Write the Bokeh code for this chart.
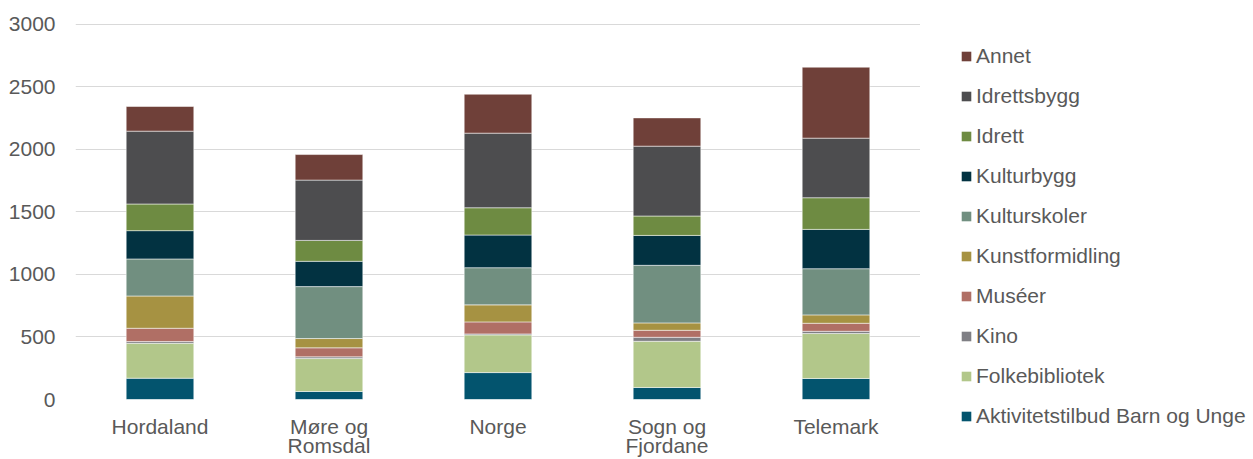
from bokeh.plotting import figure
from bokeh.models import ColumnDataSource, Range1d, Legend, LegendItem, FactorRange, CategoricalAxis
from bokeh.layouts import row
from bokeh.embed import file_html
from bokeh.resources import INLINE

categories = ["Hordaland", "Møre og Romsdal", "Norge", "Sogn og Fjordane", "Telemark"]
label_line1 = ["Hordaland", "Møre og", "Norge", "Sogn og", "Telemark"]
label_line2 = [" ", "Romsdal", "  ", "Fjordane", "   "]

series_names = ["Aktivitetstilbud Barn og Unge", "Folkebibliotek", "Kino", "Muséer", "Kunstformidling",
                "Kulturskoler", "Kulturbygg", "Idrett", "Idrettsbygg", "Annet"]

aktivitet = [170, 64, 215, 96, 168]
folkebibliotek = [279, 263, 301, 369, 359]
kino = [14, 14, 8, 32, 18]
museer = [106, 72, 96, 56, 64]
kunstformidling = [258, 74, 136, 59, 67]
kulturskoler = [296, 415, 297, 460, 369]
kulturbygg = [226, 202, 261, 239, 314]
idrett = [213, 167, 218, 155, 253]
idrettsbygg = [582, 482, 596, 558, 476]
annet = [197, 204, 311, 226, 567]

y_ticks = [0, 500, 1000, 1500, 2000, 2500, 3000]

colors = ["#03546e", "#b2c78a", "#7f7f84", "#b06f65", "#a69242",
          "#718f80", "#023241", "#6e8b42", "#4d4d4f", "#6f4039"]

FONT = "Liberation Sans"
FS = "21px"
TXT = "#595959"

keys = ["s%d" % i for i in range(len(series_names))]
data = dict(cat=categories)
for k, vals in zip(keys, [aktivitet, folkebibliotek, kino, museer, kunstformidling,
                          kulturskoler, kulturbygg, idrett, idrettsbygg, annet]):
    data[k] = vals
source = ColumnDataSource(data)

p = figure(x_range=FactorRange(*categories, range_padding=0, factor_padding=0),
           y_range=Range1d(0, 3004),
           width=920, height=459, output_backend="svg", toolbar_location=None,
           min_border_left=75, min_border_right=0, min_border_top=23, min_border_bottom=59)
p.frame_align = False
p.extra_x_ranges = {
    "l1": FactorRange(*label_line1, range_padding=0, factor_padding=0),
    "l2": FactorRange(*label_line2, range_padding=0, factor_padding=0),
}

p.vbar_stack(keys, x="cat", width=0.4, color=colors, source=source,
             line_color="white", line_alpha=0.5, line_width=1)

p.outline_line_color = None
p.xgrid.grid_line_color = None
p.ygrid.grid_line_color = "#d9d9d9"
p.ygrid.grid_line_width = 1

p.yaxis.axis_line_color = None
p.yaxis.major_tick_line_color = None
p.yaxis.minor_tick_line_color = None
p.yaxis.major_tick_out = 0
p.yaxis.major_tick_in = 0
p.yaxis.major_label_standoff = 20
p.yaxis.ticker = y_ticks
p.yaxis.major_label_text_font = FONT
p.yaxis.major_label_text_font_size = FS
p.yaxis.major_label_text_color = TXT

p.xaxis.visible = False

for name, standoff in (("l1", 15), ("l2", -7)):
    ax = CategoricalAxis(x_range_name=name)
    ax.axis_line_color = None
    ax.major_tick_line_color = None
    ax.major_tick_out = 0
    ax.major_tick_in = 0
    ax.major_label_standoff = standoff
    ax.major_label_text_font = FONT
    ax.major_label_text_font_size = FS
    ax.major_label_text_color = TXT
    p.add_layout(ax, "below")

# legend panel: legend-only renderers (zero-height, outside the visible range)
source2 = ColumnDataSource({**{k: [0] for k in keys}, "cat": [categories[0]]})
p2 = figure(x_range=FactorRange(*categories), y_range=Range1d(1, 2),
            width=333, height=459, output_backend="svg", toolbar_location=None,
            min_border_left=0, min_border_right=0, min_border_top=0, min_border_bottom=0)
p2.frame_align = False
p2.axis.visible = False
p2.grid.visible = False
p2.outline_line_color = None
rs = p2.vbar_stack(keys, x="cat", width=0.4, color=colors, source=source2, line_color=None)

items = [LegendItem(label=name, renderers=[r]) for name, r in zip(series_names, rs)]
legend = Legend(items=list(reversed(items)), location=(40, 31))
legend.glyph_width = 12
legend.glyph_height = 12
legend.label_text_font = FONT
legend.label_text_font_size = FS
legend.label_text_color = TXT
legend.label_standoff = 4
legend.label_height = 24
legend.spacing = 16
legend.padding = 0
legend.margin = 0
legend.border_line_color = None
legend.background_fill_alpha = 0
p2.add_layout(legend, "center")

layout = row(p, p2)
open("out.html", "w").write(file_html(layout, INLINE))
